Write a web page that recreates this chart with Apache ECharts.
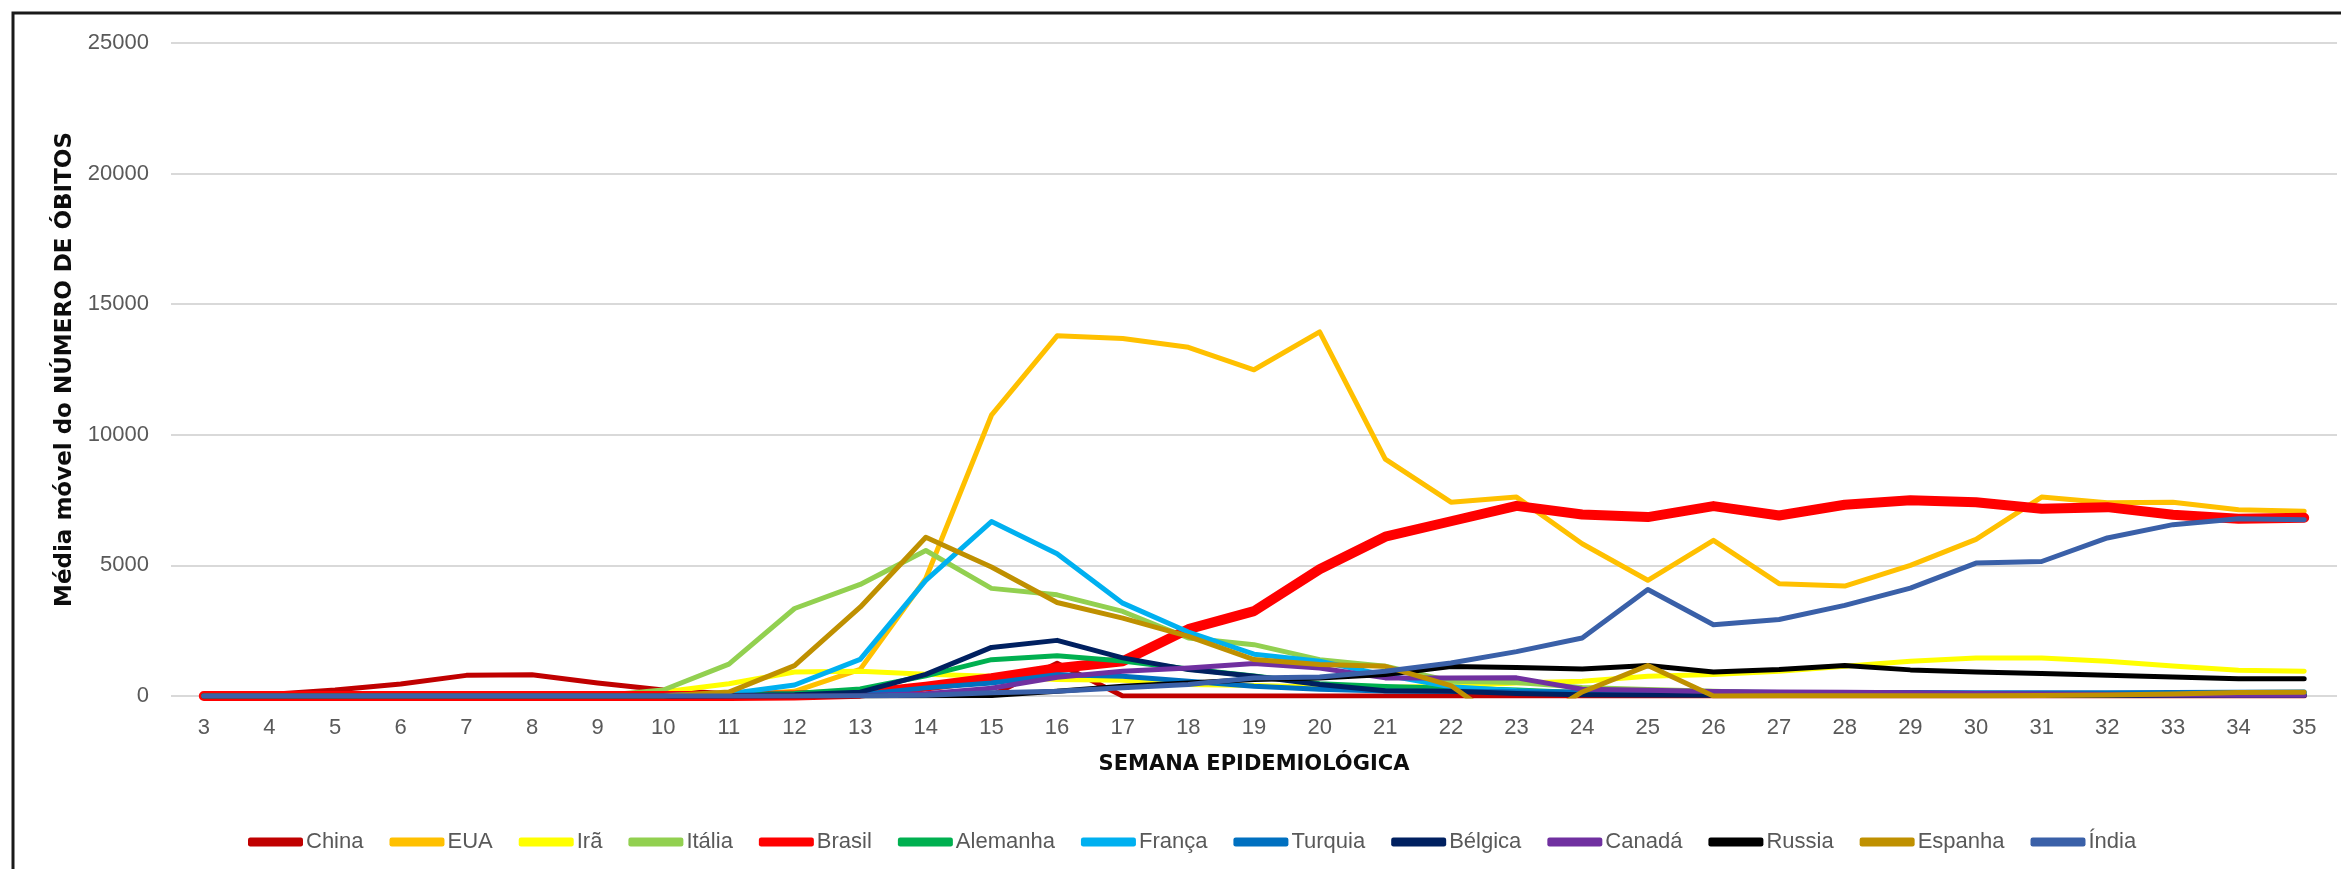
<!DOCTYPE html>
<html>
<head>
<meta charset="utf-8">
<script src="https://cdn.jsdelivr.net/npm/echarts@6/dist/echarts.min.js"></script>
<style>
  html, body { margin: 0; padding: 0; background: #fff; }
  #myDeathChart { width: 2341px; height: 869px; }
</style>
</head>
<body>
<div id="myDeathChart"></div>
<script>
// semanas epidemiológicas 3..35
const weeks = ['3', '4', '5', '6', '7', '8', '9', '10', '11', '12', '13', '14', '15', '16', '17', '18', '19',
  '20', '21', '22', '23', '24', '25', '26', '27', '28', '29', '30', '31', '32', '33', '34', '35']

const china = [10, 60, 230, 460, 790, 815, 500, 230, 90, 50, 30, 20, 20, 1250, 0, 0, 0, 0, 0, 0, 0, 0, 0, 0, 0, 0, 0, 0, 0, 0, 0, 0, 0]
const eua = [0, 0, 0, 0, 0, 0, 0, 0, 20, 180, 1020, 4500, 10750, 13790, 13690, 13350, 12490, 13940, 9070, 7420, 7615, 5830, 4430, 5960, 4300, 4210, 5000, 5995, 7615, 7400, 7420, 7130, 7070]
const ira = [0, 0, 0, 0, 0, 0, 30, 150, 470, 920, 945, 830, 760, 630, 600, 440, 400, 340, 330, 380, 500, 566, 756, 820, 947, 1138, 1329, 1456, 1456, 1329, 1150, 985, 950]
const italia = [0, 0, 0, 0, 0, 0, 0, 230, 1220, 3350, 4270, 5570, 4120, 3873, 3237, 2220, 1966, 1393, 1138, 566, 520, 330, 250, 180, 110, 90, 80, 80, 70, 80, 90, 100, 100]
const brasil = [0, 0, 0, 0, 0, 0, 0, 0, 0, 20, 90, 360, 680, 1060, 1330, 2560, 3250, 4850, 6100, 6690, 7280, 6950, 6850, 7270, 6910, 7320, 7490, 7420, 7170, 7230, 6940, 6790, 6820]
const alemanha = [0, 0, 0, 0, 0, 0, 0, 0, 50, 100, 273, 770, 1390, 1540, 1340, 1030, 770, 470, 360, 300, 230, 120, 80, 60, 40, 40, 30, 40, 40, 40, 40, 50, 50]
const franca = [0, 0, 0, 0, 0, 0, 0, 20, 90, 420, 1400, 4430, 6680, 5450, 3555, 2450, 1600, 1330, 800, 350, 200, 110, 100, 90, 90, 90, 90, 90, 90, 100, 100, 110, 120]
const turquia = [0, 0, 0, 0, 0, 0, 0, 0, 0, 20, 60, 311, 500, 810, 757, 566, 375, 260, 190, 184, 160, 150, 140, 150, 130, 130, 130, 120, 120, 120, 130, 140, 150]
const belgica = [0, 0, 0, 0, 0, 0, 0, 0, 20, 50, 146, 830, 1860, 2130, 1460, 1011, 757, 439, 200, 184, 100, 50, 40, 30, 20, 20, 20, 20, 20, 20, 20, 20, 20]
const canada = [0, 0, 0, 0, 0, 0, 0, 0, 0, 0, 20, 90, 300, 720, 948, 1075, 1240, 1075, 693, 693, 694, 260, 220, 170, 150, 140, 120, 100, 80, 60, 40, 30, 30]
const russia = [0, 0, 0, 0, 0, 0, 0, 0, 0, 0, 0, 10, 20, 180, 375, 502, 630, 693, 820, 1130, 1090, 1036, 1164, 923, 1011, 1164, 1000, 923, 860, 796, 732, 656, 656]
const espanha = [0, 0, 0, 0, 0, 0, 0, 0, 150, 1164, 3400, 6080, 4940, 3580, 2983, 2283, 1393, 1202, 1138, 400, -1390, 154, 1164, 0, 10, 10, 10, 10, 20, 40, 80, 130, 145]
const india = [0, 0, 0, 0, 0, 0, 0, 0, 0, 0, 10, 30, 121, 184, 312, 439, 693, 731, 948, 1265, 1700, 2220, 4080, 2730, 2930, 3470, 4130, 5090, 5150, 6050, 6560, 6790, 6750]

const yTicks = [0, 5000, 10000, 15000, 20000, 25000]

const paises = [
  { name: 'China', color: '#C00000', data: china },
  { name: 'EUA', color: '#FFC000', data: eua },
  { name: 'Irã', color: '#FFFF00', data: ira },
  { name: 'Itália', color: '#92D050', data: italia },
  { name: 'Brasil', color: '#FF0000', data: brasil, width: 10 },
  { name: 'Alemanha', color: '#00B050', data: alemanha },
  { name: 'França', color: '#00B0F0', data: franca },
  { name: 'Turquia', color: '#0070C0', data: turquia },
  { name: 'Bélgica', color: '#002060', data: belgica },
  { name: 'Canadá', color: '#7030A0', data: canada },
  { name: 'Russia', color: '#000000', data: russia },
  { name: 'Espanha', color: '#BF9000', data: espanha },
  { name: 'Índia', color: '#3A60A8', data: india }
]

const labelFont = "'Liberation Sans Narrow', 'Liberation Sans', Arial, sans-serif"

let myChart = echarts.init(document.getElementById('myDeathChart'))
myChart.setOption({
  animation: false,
  backgroundColor: '#fff',
  textStyle: { fontFamily: labelFont },
  graphic: [
    {
      type: 'rect',
      shape: { x: 13, y: 13, width: 2400, height: 900 },
      style: { fill: 'none', stroke: '#1a1a1a', lineWidth: 3 },
      silent: true
    }
  ],
  legend: {
    left: 243,
    top: 826,
    itemWidth: 55,
    itemHeight: 9,
    itemGap: 26,
    icon: 'roundRect',
    data: paises.map(p => p.name),
    textStyle: { color: '#595959', fontSize: 22, fontFamily: labelFont, padding: [0, 0, 0, -2] }
  },
  grid: {
    left: 171,
    right: 4,
    top: 43,
    bottom: 173
  },
  xAxis: {
    type: 'category',
    data: weeks,
    boundaryGap: true,
    name: 'SEMANA EPIDEMIOLÓGICA',
    nameLocation: 'middle',
    nameGap: 58,
    nameTextStyle: { fontFamily: 'DejaVu Sans', fontWeight: 'bold', fontSize: 21, color: '#0d0d0d' },
    axisLine: { show: false },
    axisTick: { show: false },
    axisLabel: { color: '#595959', fontSize: 22, margin: 21 }
  },
  yAxis: {
    type: 'value',
    min: yTicks[0],
    max: yTicks[yTicks.length - 1],
    interval: yTicks[1] - yTicks[0],
    name: 'Média móvel do NÚMERO DE ÓBITOS',
    nameLocation: 'middle',
    nameGap: 94,
    nameTextStyle: { fontFamily: 'DejaVu Sans', fontWeight: 'bold', fontSize: 23, color: '#0d0d0d' },
    axisLine: { show: false },
    axisTick: { show: false },
    axisLabel: {
      color: '#595959',
      fontSize: 22,
      margin: 22,
      formatter: function (value) { return String(value) }
    },
    splitLine: { lineStyle: { color: '#d9d9d9', width: 2 } }
  },
  series: paises.map(p => ({
    name: p.name,
    type: 'line',
    data: p.data,
    color: p.color,
    symbol: 'none',
    clip: true,
    lineStyle: { width: p.width || 5, color: p.color, cap: 'round', join: 'round' }
  }))
})
</script>
</body>
</html>
